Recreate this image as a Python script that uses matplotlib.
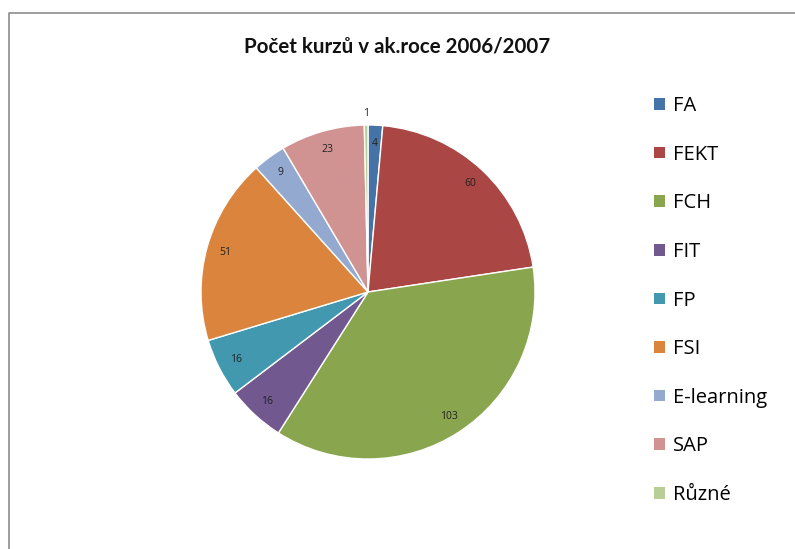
import numpy as np
import matplotlib
matplotlib.use("Agg")
import matplotlib.pyplot as plt
from matplotlib.lines import Line2D

categories = ["FA", "FEKT", "FCH", "FIT", "FP", "FSI", "E-learning", "SAP", "Různé"]
values = [4, 60, 103, 16, 16, 51, 9, 23, 1]
colors = ["#4573A7", "#AA4644", "#89A54E", "#71588F", "#4198AF",
          "#DB843D", "#93A9CF", "#D19392", "#B9CD96"]
title = "Počet kurzů v ak.roce 2006/2007"

plt.rcParams['font.family'] = ['Open Sans', 'DejaVu Sans']

W, H = 795, 549
fig = plt.figure(figsize=(W / 100, H / 100), dpi=100)

# chart border (top and left visible)
fig.add_artist(Line2D([9 / W, 9 / W, 1.0], [0.0, 1 - 13 / H, 1 - 13 / H],
                      transform=fig.transFigure, color="#8c8c8c", lw=1.2))

cx, cy, r = 368, 292, 167
ax = fig.add_axes([(cx - r) / W, (H - cy - r) / H, 2 * r / W, 2 * r / H])
wedges, _ = ax.pie(values, colors=colors, startangle=90, counterclock=False,
                   radius=1.0, wedgeprops=dict(edgecolor="white", linewidth=1.0))
ax.set_xlim(-1, 1)
ax.set_ylim(-1, 1)
ax.set_aspect("auto")
ax.axis("off")

for w, v in zip(wedges, values):
    ang = np.deg2rad((w.theta1 + w.theta2) / 2)
    d = 0.89 if v > 2 else 1.07
    ax.text(d * np.cos(ang), d * np.sin(ang), str(v), ha="center", va="center",
            fontsize=7.5, color="#222222")

fig.text(397 / W, 1 - 47 / H, title, ha="center", va="center",
         fontsize=14.8, fontweight="bold", color="#111111",
         family=['Lato', 'DejaVu Sans'])

leg = fig.legend(wedges, categories, loc="upper left",
                 bbox_to_anchor=(636 / W, 1 - 78 / H), frameon=False,
                 fontsize=14.5, handlelength=0.52, handleheight=0.52,
                 handletextpad=0.4, labelspacing=1.42)
for h in leg.legend_handles:
    h.set_edgecolor("none")

fig.savefig("out.png", dpi=100)
